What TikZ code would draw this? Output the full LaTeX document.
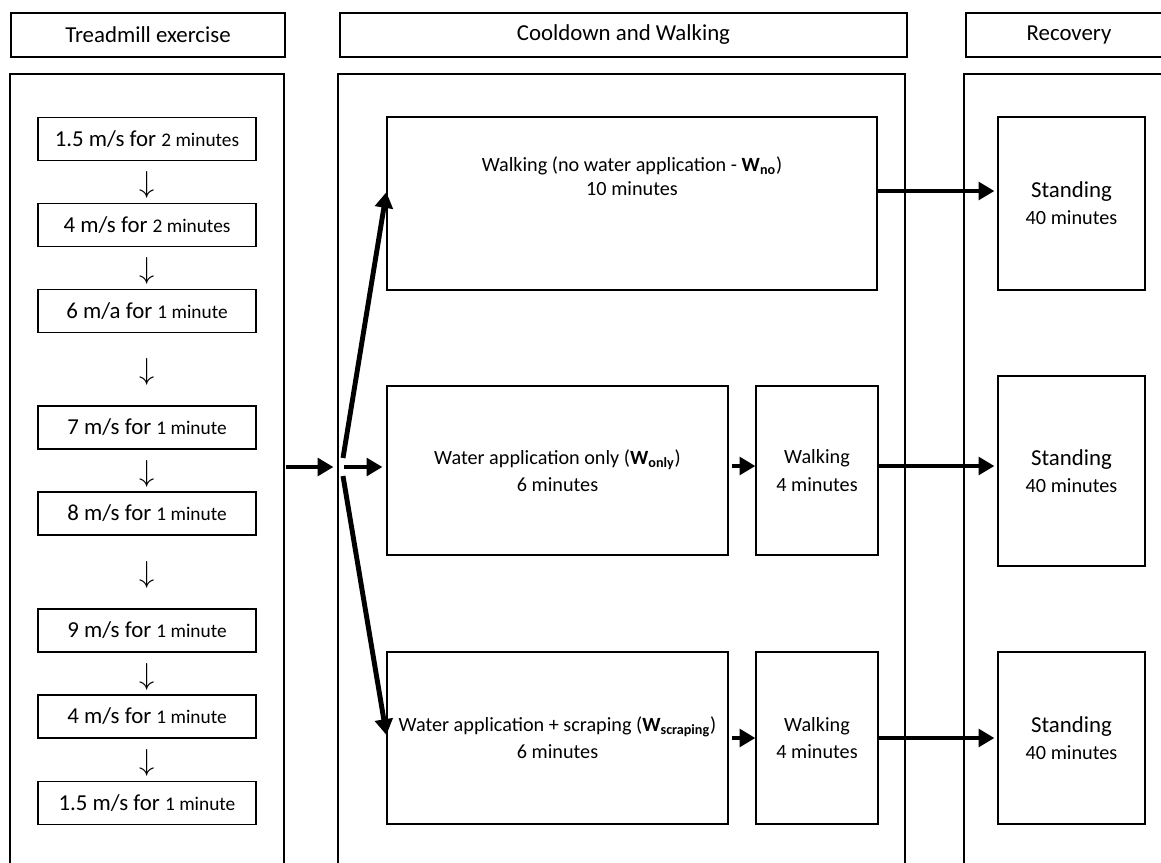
\documentclass[tikz,border=0pt]{standalone}
\usepackage{fontspec}
\setmainfont{Carlito}
\usetikzlibrary{arrows.meta,positioning,calc}

\newcommand{\dur}[1]{{\fontsize{11}{13}\selectfont #1}}

\tikzset{
  box/.style={rectangle, draw, line width=0.7pt, align=center, inner sep=0pt},
  header/.style={box, minimum width=#1, minimum height=0.88cm, font=\fontsize{13}{15}\selectfont},
  speed/.style={box, minimum width=4.36cm, minimum height=0.86cm, font=\fontsize{13}{15}\selectfont},
  stage/.style={box, font=\fontsize{11.5}{15.5}\selectfont},
  plain/.style={align=center, inner sep=0pt, font=\fontsize{11.5}{14}\selectfont},
  downmark/.style={inner sep=0pt, font=\fontsize{16}{18}\selectfont},
  frame/.style={line width=0.7pt},
  flow/.style={line width=2.8pt, -{Triangle[length=9pt,width=10pt]}}
}

\begin{document}
\begin{tikzpicture}[x=0.02cm, y=-0.02cm]
\useasboundingbox (0,0) rectangle (1161,863);

% headers
\node[header=5.48cm] (htread) at (148,35) {Treadmill exercise};
\node[header=11.34cm] (hcool) at (623.5,35) {Cooldown and Walking};
\node[header=4.12cm] (hrec) at (1069,35) {Recovery};

% column frames
\draw[frame] (10,74) rectangle (284,890);
\draw[frame] (338,74) rectangle (905,890);
\draw[frame] (964,74) rectangle (1190,890);

% treadmill steps
\node[speed] (s1) at (147,139) {1.5 m/s for \dur{2 minutes}};
\node[speed] (s2) at (147,225) {4 m/s for \dur{2 minutes}};
\node[speed] (s3) at (147,311) {6 m/a for \dur{1 minute}};
\node[speed] (s4) at (147,427.5) {7 m/s for \dur{1 minute}};
\node[speed] (s5) at (147,513.5) {8 m/s for \dur{1 minute}};
\node[speed] (s6) at (147,630.5) {9 m/s for \dur{1 minute}};
\node[speed] (s7) at (147,716.5) {4 m/s for \dur{1 minute}};
\node[speed] (s8) at (147,803) {1.5 m/s for \dur{1 minute}};
\foreach \a/\b in {s1/s2,s2/s3,s3/s4,s4/s5,s5/s6,s6/s7,s7/s8}
  \path (\a) -- (\b) node[midway, downmark, yshift=-0.06cm] (d\a) {$\downarrow$};

% cooldown options
\node[stage, minimum width=9.8cm, minimum height=3.46cm] (wno) at (632,203.5) {};
\node[plain] (wnotxt) at ([yshift=0.55cm]wno.center) {Walking (no water application - \textbf{W}\textsubscript{\textbf{no}})\\10 minutes};
\node[stage, minimum width=6.82cm, minimum height=3.38cm] (wonly) at (557.5,470.5) {Water application only (\textbf{W}\textsubscript{\textbf{only}})\\6 minutes};
\node[stage, minimum width=2.44cm, minimum height=3.38cm] (walk2) at (817,470.5) {Walking\\4 minutes};
\node[stage, minimum width=6.82cm, minimum height=3.44cm] (wscr) at (557.5,738) {Water application + scraping (\textbf{W}\textsubscript{\textbf{scraping}})\\6 minutes};
\node[stage, minimum width=2.44cm, minimum height=3.44cm] (walk3) at (817,738) {Walking\\4 minutes};

% recovery
\node[stage, minimum width=2.94cm, minimum height=3.46cm] (stand1) at (1071.5,203.5) {{\fontsize{13}{15}\selectfont Standing}\\40 minutes};
\node[stage, minimum width=2.94cm, minimum height=3.8cm] (stand2) at (1071.5,471) {{\fontsize{13}{15}\selectfont Standing}\\40 minutes};
\node[stage, minimum width=2.94cm, minimum height=3.44cm] (stand3) at (1071.5,738) {{\fontsize{13}{15}\selectfont Standing}\\40 minutes};

% split of the flow
\coordinate (fork) at (344,467);
\coordinate (forkup) at (343,458);
\coordinate (forkdown) at (343,476);
\draw[flow] (htread.east |- fork) -- ([xshift=-0.12cm]hcool.west |- fork);
\draw[flow, shorten >=0.08cm] (fork) -- (wonly.west |- fork);
\draw[flow] (forkup) -- ([yshift=0.23cm]wno.west);
\draw[flow] (forkdown) -- ([yshift=0.06cm]wscr.west);

% rows
\draw[flow, shorten >=0.06cm] ([yshift=0.25cm]wno.east) -- ([yshift=0.25cm]wno.east -| stand1.west);
\draw[flow] ([xshift=0.06cm, yshift=0.09cm]wonly.east) -- ([yshift=0.09cm]walk2.west);
\draw[flow, shorten >=0.06cm] ([yshift=0.09cm]walk2.east) -- ([yshift=0.09cm]walk2.east -| stand2.west);
\draw[flow] ([xshift=0.06cm]wscr.east) -- (walk3.west);
\draw[flow, shorten >=0.06cm] (walk3.east) -- (stand3.west);
\end{tikzpicture}
\end{document}
